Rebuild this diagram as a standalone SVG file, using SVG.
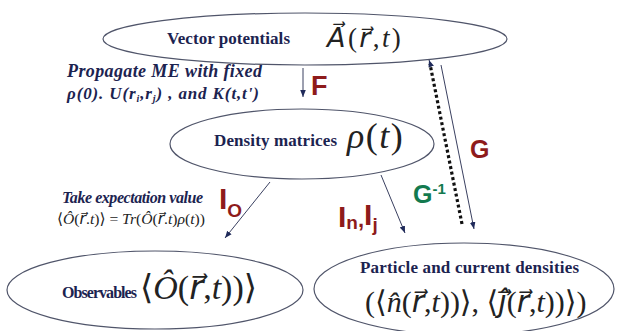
<svg xmlns="http://www.w3.org/2000/svg" width="617" height="331" viewBox="0 0 617 331">
<defs>
<style>
.node{fill:#fff;stroke:#50556a;stroke-width:1.2}
.lbl{font-family:'Liberation Serif',serif;font-weight:bold;fill:#1c2350}
.note{font-family:'Liberation Serif',serif;font-style:italic;font-weight:bold;fill:#1c2350}
.math{font-family:'Liberation Serif','DejaVu Serif',serif;font-style:italic;fill:#222}
.up{font-style:normal}
.vc{font-family:'DejaVu Sans',sans-serif;font-style:oblique}
.red{font-family:'Liberation Sans',Arial,sans-serif;font-weight:bold;fill:#8e1b1b}
.green{font-family:'Liberation Sans',Arial,sans-serif;font-weight:bold;fill:#137a4f}
.conn{stroke:#3a4060;stroke-width:1;fill:none}
.dot{stroke:#111;stroke-width:3.2;stroke-dasharray:3 2.6;fill:none}
</style>
<marker id="ah" viewBox="0 0 10 10" refX="10" refY="5" markerWidth="7" markerHeight="7" markerUnits="userSpaceOnUse" orient="auto">
<path d="M0,1 L10,5 L0,9 z" fill="#1f2a5a"/>
</marker>
</defs>

<g id="connectors">
<line class="conn" x1="303" y1="68" x2="303" y2="97" marker-end="url(#ah)"/>
<line class="conn" x1="270" y1="182" x2="225" y2="238" marker-end="url(#ah)"/>
<line class="conn" x1="381" y1="175" x2="405" y2="233" marker-end="url(#ah)"/>
<line class="conn" x1="441" y1="65" x2="474" y2="229" marker-end="url(#ah)"/>
<line class="dot" x1="462" y1="224" x2="430" y2="64"/>
<line class="conn" x1="431" y1="66" x2="429" y2="60" stroke-width="0.5" marker-end="url(#ah)"/>
</g>

<g id="edge-labels">
<text class="red" x="311" y="95" font-size="27">F</text>
<text class="red" x="470" y="158" font-size="25">G</text>
<text class="green" x="413" y="203" font-size="25">G<tspan font-size="15" dy="-9">-1</tspan></text>
<text class="red" x="219" y="209" font-size="30">I<tspan font-size="19" dy="8">O</tspan></text>
<text class="red" x="338" y="227" font-size="30">I<tspan font-size="19" dy="2">n</tspan><tspan font-size="22" dy="-2">,</tspan><tspan dy="-2">I</tspan><tspan font-size="19" dy="6">j</tspan></text>
</g>

<g id="note-propagate">
<text class="note" x="67" y="77" font-size="18" textLength="195" lengthAdjust="spacing">Propagate ME with fixed</text>
<text class="note" x="67" y="99" font-size="17" textLength="192" lengthAdjust="spacing">ρ(0).  U(r<tspan font-size="10" dy="3">i</tspan><tspan dy="-3">,r</tspan><tspan font-size="10" dy="3">j</tspan><tspan dy="-3">) , and K(t,t')</tspan></text>
</g>

<g id="note-expectation">
<text class="note" x="62" y="203" font-size="16" textLength="141" lengthAdjust="spacing">Take expectation value</text>
<text class="math" x="57" y="224" font-size="15.6" fill="#2a2f45"><tspan class="up">⟨</tspan>Ô<tspan class="up">(</tspan><tspan class="vc">r⃗</tspan><tspan class="up">.</tspan>t<tspan class="up">)⟩ = </tspan>Tr<tspan class="up">(</tspan>Ô<tspan class="up">(</tspan><tspan class="vc">r⃗</tspan><tspan class="up">.</tspan>t<tspan class="up">)</tspan>ρ<tspan class="up">(</tspan>t<tspan class="up">))</tspan></text>
</g>

<g id="node-vector">
<ellipse class="node" cx="305" cy="39" rx="202" ry="26"/>
<text class="lbl" x="167" y="44" font-size="17" textLength="123" lengthAdjust="spacing">Vector potentials</text>
<text class="math" x="327" y="47" font-size="27" letter-spacing="2.4"><tspan class="vc">A⃗</tspan><tspan class="up">(</tspan><tspan class="vc">r⃗</tspan><tspan class="up">,</tspan>t<tspan class="up">)</tspan></text>
</g>

<g id="node-density">
<ellipse class="node" cx="302" cy="144" rx="132" ry="35"/>
<text class="lbl" x="214" y="146" font-size="17" textLength="123" lengthAdjust="spacing">Density matrices</text>
<text class="math" x="347" y="148" font-size="36" letter-spacing="1.5">ρ<tspan class="up">(</tspan>t<tspan class="up">)</tspan></text>
</g>

<g id="node-observables">
<ellipse class="node" cx="155" cy="290" rx="148" ry="39"/>
<text class="lbl" x="62" y="298" font-size="16" textLength="75" lengthAdjust="spacing">Observables</text>
<text class="math" x="140" y="299" font-size="34"><tspan class="up">⟨</tspan>Ô<tspan class="up">(</tspan><tspan class="vc">r⃗</tspan><tspan class="up">,</tspan>t<tspan class="up">))⟩</tspan></text>
</g>

<g id="node-particle">
<ellipse class="node" cx="464" cy="289" rx="150" ry="46"/>
<text class="lbl" x="360" y="273" font-size="17" textLength="219" lengthAdjust="spacing">Particle and current densities</text>
<text class="math" x="365" y="312" font-size="30"><tspan class="up">(⟨</tspan>n̂<tspan class="up">(</tspan><tspan class="vc">r⃗</tspan><tspan class="up">,</tspan>t<tspan class="up">))⟩, ⟨</tspan><tspan class="vc">ȷ⃗̂</tspan><tspan class="up">(</tspan><tspan class="vc">r⃗</tspan><tspan class="up">,</tspan>t<tspan class="up">))⟩)</tspan></text>
</g>
</svg>
